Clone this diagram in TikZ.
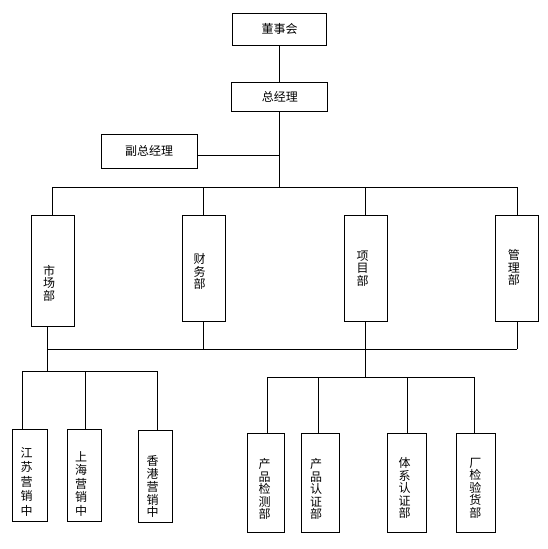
\documentclass[tikz,border=0pt]{standalone}
\usepackage{fontspec}
\newfontfamily\cjk{Noto Sans CJK SC}
\begin{document}
\begin{tikzpicture}[x=1pt,y=-1pt,
  ln/.style={line width=0.9pt,black},
  boxs/.style={draw,line width=0.9pt,inner sep=0pt,font=\cjk\fontsize{12}{12}\selectfont},
  vt/.style={inner sep=0pt,align=center,font=\cjk\fontsize{12}{#1}\selectfont},
  vt/.default=12.5
]
\fill[white] (0,0) rectangle (547,549);
\useasboundingbox (0,0) rectangle (547,549);

% top boxes
\node[boxs,minimum width=94pt,minimum height=32pt] (dsh) at (279.5,29) {董事会};
\node[boxs,minimum width=96pt,minimum height=29pt] (zjl) at (279.8,96.5) {总经理};
\node[boxs,minimum width=96pt,minimum height=34pt] (fz) at (149,151) {副总经理};

% department boxes
\node[boxs,minimum width=42.7pt,minimum height=111pt] (sc) at (52.7,270.7) {};
\node[boxs,minimum width=43pt,minimum height=106pt] (cw) at (203.8,268) {};
\node[boxs,minimum width=43pt,minimum height=106pt] (xm) at (365.8,268) {};
\node[boxs,minimum width=43pt,minimum height=106pt] (gl) at (517.2,268) {};
\node[vt] (sct) at (49,283) {市\\场\\部};
\node[vt] (cwt) at (199.7,271.5) {财\\务\\部};
\node[vt] (xmt) at (362.5,268.3) {项\\目\\部};
\node[vt] (glt) at (513.8,267.5) {管\\理\\部};

% lower boxes
\node[boxs,minimum width=35pt,minimum height=92.3pt] (js) at (29.8,475.2) {};
\node[boxs,minimum width=34pt,minimum height=92.3pt] (sh) at (84.3,475.2) {};
\node[boxs,minimum width=34.2pt,minimum height=92.3pt] (xg) at (155.4,476.2) {};
\node[boxs,minimum width=36.8pt,minimum height=99pt] (cpjc) at (265.9,482.8) {};
\node[boxs,minimum width=37.3pt,minimum height=99pt] (cprz) at (320.3,482.8) {};
\node[boxs,minimum width=39pt,minimum height=99pt] (txrz) at (406.8,482.7) {};
\node[boxs,minimum width=39pt,minimum height=99pt] (cjyh) at (475.8,482.7) {};
\node[vt=14.5] (jst) at (26.7,481.7) {江\\苏\\营\\销\\中};
\node[vt=13.5] (sht) at (81,484) {上\\海\\营\\销\\中};
\node[vt=12.8] (xgt) at (152.5,486.7) {香\\港\\营\\销\\中};
\node[vt] (cpjct) at (264.5,489) {产\\品\\检\\测\\部};
\node[vt] (cprzt) at (316,489) {产\\品\\认\\证\\部};
\node[vt] (txrzt) at (404.5,488.3) {体\\系\\认\\证\\部};
\node[vt] (cjyht) at (475.3,488.3) {厂\\检\\验\\货\\部};

% coordinates
\coordinate (b0) at (279.5,187);
\coordinate (bL) at (52.5,187);
\coordinate (bR) at (517.3,187);
\coordinate (scb) at (47.7,326.3);
\coordinate (lb) at (47.7,349.3);
\coordinate (lsL) at (22.3,371.7);
\coordinate (lsM) at (85.7,371.7);
\coordinate (lsR) at (157.5,371.7);
\coordinate (lsC) at (47.7,371.7);
\coordinate (rsL) at (267.3,377.3);
\coordinate (rsM) at (318.5,377.3);
\coordinate (rsN) at (407.3,377.3);
\coordinate (rsR) at (474.7,377.3);

% connectors
\draw[ln] (dsh.south) -- (dsh.south |- zjl.north);
\draw[ln] (zjl.south -| b0) -- (b0);
\draw[ln] ([yshift=-4pt]fz.east) -- ([yshift=-4pt]fz.east -| b0);
\draw[ln] (bL) -- (bR);
\draw[ln] (bL) -- (bL |- sc.north);
\draw[ln] (cw.north) -- (cw.north |- b0);
\draw[ln] (xm.north) -- (xm.north |- b0);
\draw[ln] (gl.north) -- (gl.north |- b0);

\draw[ln] (scb) -- (lsC);
\draw[ln] (lb) -- (lb -| gl.south);
\draw[ln] (cw.south) -- (cw.south |- lb);
\draw[ln] (gl.south) -- (gl.south |- lb);
\draw[ln] (xm.south) -- (xm.south |- rsL);

\draw[ln] (lsL) -- (lsR);
\draw[ln] (lsL) -- (lsL |- js.north);
\draw[ln] (lsM) -- (lsM |- sh.north);
\draw[ln] (lsR) -- (lsR |- xg.north);

\draw[ln] (rsL) -- (rsR);
\draw[ln] (rsL) -- (rsL |- cpjc.north);
\draw[ln] (rsM) -- (rsM |- cprz.north);
\draw[ln] (rsN) -- (rsN |- txrz.north);
\draw[ln] (rsR) -- (rsR |- cjyh.north);
\end{tikzpicture}
\end{document}
